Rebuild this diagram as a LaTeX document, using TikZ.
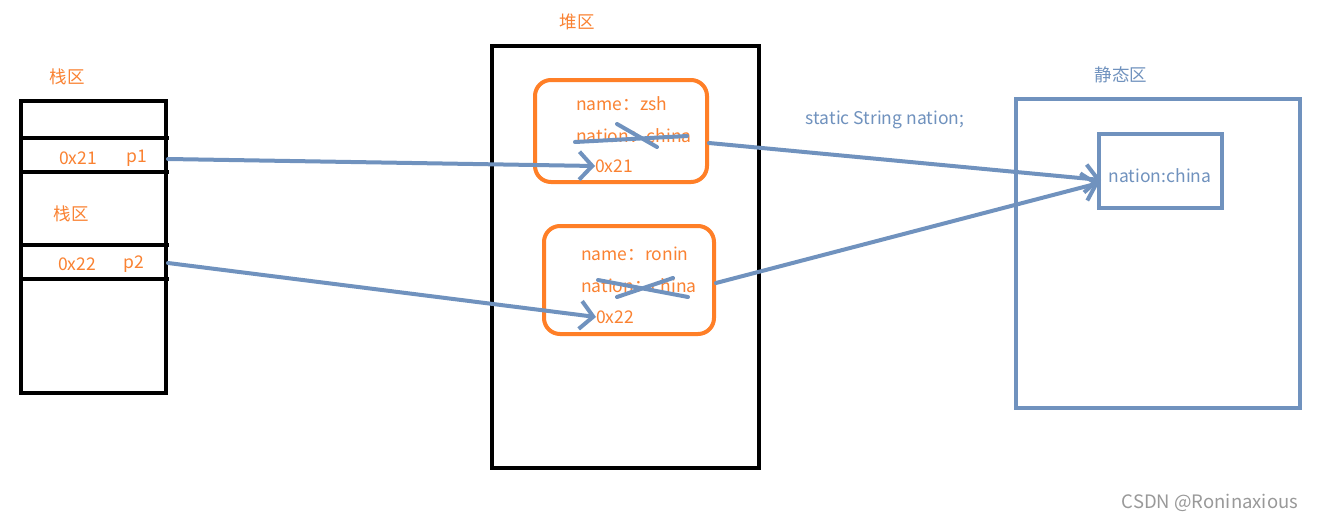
\documentclass[tikz,border=0pt]{standalone}
\usepackage{fontspec}
\setmainfont{Noto Sans CJK SC}
\usetikzlibrary{arrows.meta}
\definecolor{org}{HTML}{FF7F27}
\definecolor{otext}{HTML}{FA8232}
\definecolor{bl}{HTML}{7092BE}
\tikzset{
  blk/.style={draw=black,line width=4pt},
  obox/.style={draw=org,line width=4pt,rounded corners=16pt},
  bbox/.style={draw=bl,line width=4pt},
  otxt/.style={text=otext,font=\fontsize{17.5}{20}\selectfont,inner sep=0pt},
  btxt/.style={text=bl,font=\fontsize{17.5}{20}\selectfont,inner sep=0pt},
  conn/.style={draw=bl,line width=4pt,line cap=round,-{Straight Barb[length=13pt,width=28pt,line width=4pt]}},
  strike/.style={draw=bl,line width=4pt,line cap=round},
}
\begin{document}
\begin{tikzpicture}[x=1pt,y=-1pt]
\useasboundingbox[fill=white] (0,0) rectangle (1317,522);
% stack
\draw[blk] (21,101) rectangle (166,393);
\foreach \yy in {138,172,245,279} \draw[blk] (21,\yy) -- (169,\yy);
\node[otxt] (stk) at (67,77) {栈区};
\node[otxt] (stk2) at (71,214) {栈区};
\node[otxt] (a21) at (78,158) {0x21};
\node[otxt] (p1) at (137,158) {p1};
\node[otxt] (a22) at (77,264) {0x22};
\node[otxt] (p2) at (134,264) {p2};
\coordinate (p1e) at (168,159);
\coordinate (p2e) at (168,263);
% heap
\draw[blk] (492,46) rectangle (759,468);
\node[otxt] (heap) at (577,22) {堆区};
\draw[obox] (535,80) rectangle (707,182);
\draw[obox] (544,226) rectangle (714,334);
\node[otxt,anchor=west] (n1) at (576,104) {name：zsh};
\node[otxt,anchor=west] (c1) at (576,136) {nation：china};
\node[otxt,anchor=west] (h1) at (595,166) {0x21};
\node[otxt,anchor=west] (n2) at (581,254) {name：ronin};
\node[otxt,anchor=west] (c2) at (581,286) {nation：china};
\node[otxt,anchor=west] (h2) at (596,317) {0x22};
\draw[strike] (575,142) -- (687,136);
\draw[strike] (617,124) -- (657,147);
\draw[strike] (598,280) -- (688,297);
\draw[strike] (617,297) -- (673,278);
% static
\draw[bbox] (1016,99) rectangle (1300,408);
\draw[bbox] (1099,134) rectangle (1222,208);
\node[btxt] (st) at (1121,75) {静态区};
\node[btxt] (nc) at (1160,176) {nation:china};
\node[btxt] (decl) at (885,120) {static String nation;};
\coordinate (o1) at (709,143);
\coordinate (o2) at (716,283);
\coordinate (t1) at (1101,180);
\coordinate (t2) at (1099,183);
% connectors
\draw[conn] (p1e) -- (h1.west);
\draw[conn] (p2e) -- (h2.west);
\draw[conn] (o1) -- (t1);
\draw[conn] (o2) -- (t2);
% watermark
\node[text=black!40,font=\fontsize{18.5}{21}\selectfont,inner sep=0pt] (wm) at (1210,503) {CSDN @Roninaxious};
\end{tikzpicture}
\end{document}
